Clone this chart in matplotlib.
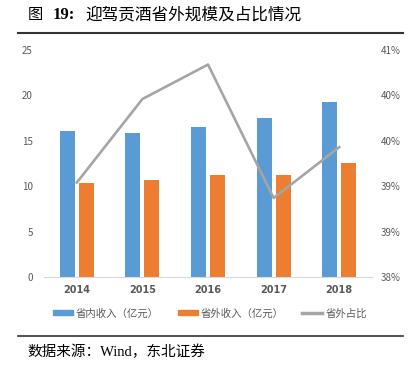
import numpy as np
import matplotlib.pyplot as plt
from matplotlib.lines import Line2D
from matplotlib.patches import Patch

plt.rcParams['font.family'] = ['Noto Sans CJK SC', 'DejaVu Sans']

years = ['2014', '2015', '2016', '2017', '2018']
inner_rev = [16.1, 15.9, 16.55, 17.55, 19.3]
outer_rev = [10.35, 10.65, 11.2, 11.2, 12.6]
outer_share = [0.3904, 0.3996, 0.4034, 0.3887, 0.3943]
left_ticks = [0, 5, 10, 15, 20, 25]
right_ticks = [0.38, 0.385, 0.39, 0.395, 0.40, 0.405]
right_labels = ['38%', '39%', '39%', '40%', '40%', '41%']

blue = '#5B9BD5'
orange = '#ED7D31'
grey = '#A5A5A5'
tick_color = '#595959'
serif_cjk = ['Liberation Serif', 'Noto Sans CJK SC']

fig = plt.figure(figsize=(4.2, 3.76), dpi=100)
ax = fig.add_axes([0.1048, 0.2633, 0.781, 0.6037])
ax2 = ax.twinx()

x = np.arange(len(years))
w = 0.23
ax.bar(x - 0.145, inner_rev, w, color=blue, zorder=2)
ax.bar(x + 0.145, outer_rev, w, color=orange, zorder=2)
ax2.plot(x, outer_share, color=grey, lw=1.9, zorder=3)

ax.set_xlim(-0.5, len(years) - 0.5)
ax.set_ylim(0, 25)
ax2.set_ylim(0.38, 0.405)
ax.set_yticks(left_ticks)
ax.set_yticklabels([str(t) for t in left_ticks])
ax2.set_yticks(right_ticks)
ax2.set_yticklabels(right_labels)
ax.set_xticks(x)
ax.set_xticklabels(years, fontweight='bold', family=['DejaVu Sans'])

for a in (ax, ax2):
    for s in a.spines.values():
        s.set_visible(False)
    a.tick_params(length=0, labelsize=7, colors=tick_color)
ax.spines['bottom'].set_visible(True)
ax.spines['bottom'].set_color('#D9D9D9')
ax.tick_params(axis='y', pad=8)
ax2.tick_params(axis='y', pad=6)
ax.tick_params(axis='x', pad=6)

handles = [Patch(color=blue), Patch(color=orange), Line2D([], [], color=grey, lw=2.5)]
labels = ['省内收入（亿元）', '省外收入（亿元）', '省外占比']
fig.legend(handles, labels, loc='center', bbox_to_anchor=(0.5, 0.167), ncol=3,
           frameon=False, fontsize=7.5, labelcolor=tick_color, handlelength=1.9,
           handleheight=0.35, columnspacing=1.8, handletextpad=0.3)

# title pieces
fig.text(28 / 420, 0.961, '图', fontsize=11, fontweight='medium', va='center', ha='left')
fig.text(53 / 420, 0.961, '19:', fontsize=12, fontweight='bold', family=serif_cjk,
         va='center', ha='left')
fig.text(85 / 420, 0.961, '迎驾贡酒省外规模及占比情况', fontsize=12, fontweight='medium',
         va='center', ha='left')
fig.add_artist(Line2D([0.043, 0.96], [0.912, 0.912], color='#333333', lw=1.5))
fig.add_artist(Line2D([0.043, 0.96], [0.106, 0.106], color='#333333', lw=1.2))
fig.text(27 / 420, 0.064, '数据来源：Wind，东北证券', fontsize=10.5, family=serif_cjk,
         va='center', ha='left')

fig.savefig('out.png', dpi=100)
